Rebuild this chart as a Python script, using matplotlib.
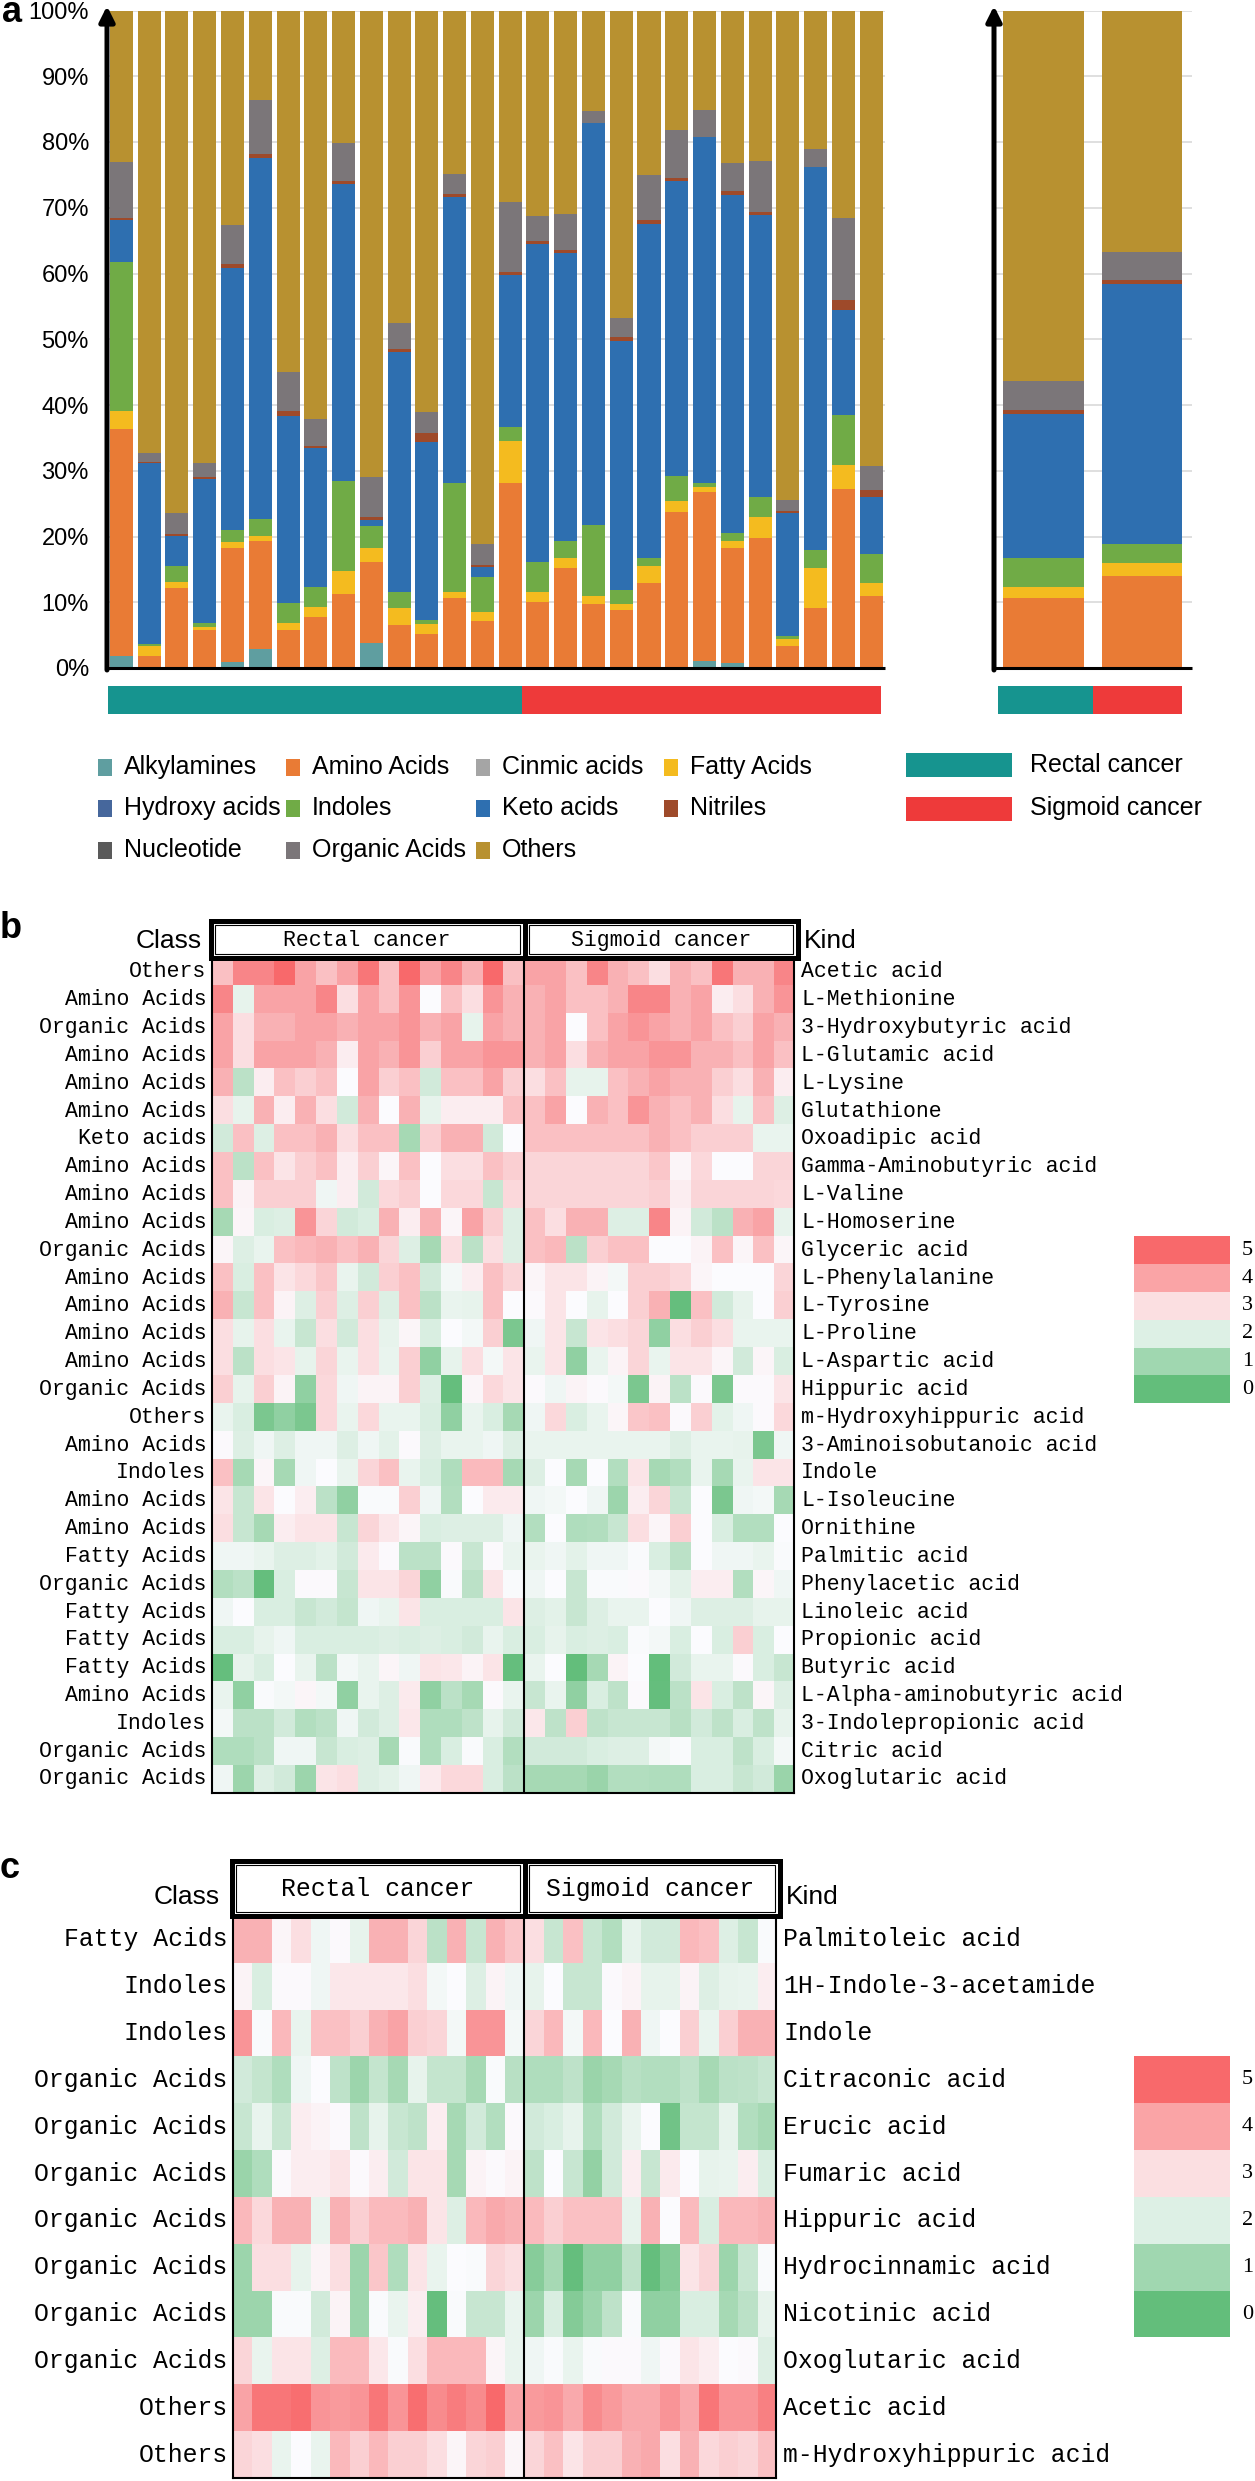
import numpy as np
import matplotlib
matplotlib.use("Agg")
import matplotlib.pyplot as plt
from matplotlib import font_manager
from matplotlib.colors import LinearSegmentedColormap, Normalize
from matplotlib.patches import Rectangle

plt.rcParams['font.family'] = ['Liberation Sans', 'DejaVu Sans']
# narrow face for the legend of panel a, if the system has it
has_narrow = any('Narrow' in f.name for f in font_manager.fontManager.ttflist)
narrow = ['Liberation Sans Narrow', 'Liberation Sans'] if has_narrow else ['Liberation Sans']

# ---------------- panel a : class composition per sample (%) ----------------
groups = ["Rectal cancer", "Sigmoid cancer"]
group_sizes = [15, 13]
group_colors = ["#16948f", "#ee3a3a"]

classes = ["Alkylamines", "Amino Acids", "Cinmic acids", "Fatty Acids", "Hydroxy acids",
           "Indoles", "Keto acids", "Nitriles", "Nucleotide", "Organic Acids", "Others"]
class_colors = ["#5f9ea0", "#e97b35", "#a5a5a5", "#f4bb1f", "#46679c",
                "#70ab46", "#2e6fb0", "#9e4a2a", "#5a5a5a", "#7b7679", "#b89130"]

alkylamines = [1.8, 0, 0, 0, 0.9, 2.9, 0, 0, 0, 3.8, 0, 0, 0, 0,
               0, 0, 0, 0, 0, 0, 0, 1.0, 0.8, 0, 0, 0, 0, 0]
amino = [34.5, 1.8, 12.1, 5.8, 17.3, 16.4, 5.8, 7.8, 11.2, 12.3, 6.5, 5.1, 10.7, 7.2,
         28.1, 10.1, 15.2, 9.8, 8.8, 12.9, 23.8, 25.8, 17.5, 19.8, 3.4, 9.1, 27.3, 11.0]
cinmic = [0] * 28
fatty = [2.8, 1.6, 1.0, 0.5, 1.0, 0.8, 1.0, 1.5, 3.5, 2.1, 2.6, 1.6, 0.8, 1.3,
         6.5, 1.5, 1.5, 1.2, 1.0, 2.6, 1.6, 0.8, 1.0, 3.2, 1.0, 6.1, 3.5, 1.9]
hydroxy = [0] * 28
indoles = [22.6, 0.3, 2.4, 0.5, 1.8, 2.5, 3.1, 3.0, 13.7, 3.4, 2.4, 0.6, 16.7, 5.4,
           2.1, 4.5, 2.6, 10.7, 2.1, 1.2, 3.8, 0.6, 1.3, 3.0, 0.4, 2.8, 7.7, 4.4]
keto = [6.4, 27.5, 4.6, 22.0, 39.8, 55.0, 28.4, 21.1, 45.2, 0.9, 36.6, 27.1, 43.5, 1.4,
        23.0, 48.4, 43.8, 61.2, 37.8, 50.8, 44.9, 52.6, 51.4, 42.9, 18.7, 58.2, 15.9, 8.7]
nitriles = [0.4, 0.2, 0.3, 0.2, 0.6, 0.5, 0.8, 0.4, 0.4, 0.4, 0.4, 1.4, 0.4, 0.3,
            0.6, 0.5, 0.5, 0.0, 0.6, 0.7, 0.5, 0.0, 0.5, 0.4, 0.4, 0.0, 1.5, 1.0]
nucleotide = [0] * 28
organic = [8.4, 1.3, 3.2, 2.2, 6.0, 8.3, 5.9, 4.0, 5.9, 6.2, 4.0, 3.2, 3.0, 3.2,
           10.6, 3.7, 5.4, 1.8, 2.9, 6.8, 7.2, 4.0, 4.3, 7.8, 1.6, 2.8, 12.5, 3.7]
others = [23.2, 67.3, 76.4, 68.7, 32.6, 13.6, 55.0, 62.2, 20.1, 70.9, 47.6, 61.0, 24.9, 81.2,
          29.1, 31.3, 31.0, 15.3, 46.8, 25.0, 18.2, 15.2, 23.2, 22.9, 74.4, 21.0, 31.6, 69.3]

# group means (right-hand panel)
mean_alkylamines = [0, 0]
mean_amino = [10.7, 14.0]
mean_cinmic = [0, 0]
mean_fatty = [1.6, 1.9]
mean_hydroxy = [0, 0]
mean_indoles = [4.4, 3.0]
mean_keto = [22.0, 39.5]
mean_nitriles = [0.6, 0.6]
mean_nucleotide = [0, 0]
mean_organic = [4.4, 4.3]
mean_others = [56.3, 36.7]

# ---------------- panels b / c : heatmaps (half-point levels, 0-10 = score 0-5) ----------------
b_class = ["Others", "Amino Acids", "Organic Acids", "Amino Acids", "Amino Acids", "Amino Acids",
           "Keto acids", "Amino Acids", "Amino Acids", "Amino Acids", "Organic Acids", "Amino Acids",
           "Amino Acids", "Amino Acids", "Amino Acids", "Organic Acids", "Others", "Amino Acids",
           "Indoles", "Amino Acids", "Amino Acids", "Fatty Acids", "Organic Acids", "Fatty Acids",
           "Fatty Acids", "Fatty Acids", "Amino Acids", "Indoles", "Organic Acids", "Organic Acids"]
b_kind = ["Acetic acid", "L-Methionine", "3-Hydroxybutyric acid", "L-Glutamic acid", "L-Lysine",
          "Glutathione", "Oxoadipic acid", "Gamma-Aminobutyric acid", "L-Valine", "L-Homoserine",
          "Glyceric acid", "L-Phenylalanine", "L-Tyrosine", "L-Proline", "L-Aspartic acid",
          "Hippuric acid", "m-Hydroxyhippuric acid", "3-Aminoisobutanoic acid", "Indole",
          "L-Isoleucine", "Ornithine", "Palmitic acid", "Phenylacetic acid", "Linoleic acid",
          "Propionic acid", "Butyric acid", "L-Alpha-aminobutyric acid", "3-Indolepropionic acid",
          "Citric acid", "Oxoglutaric acid"]
b_rectal = [
    [7, 9, 9, 10, 8, 7, 8, 9.5, 7, 10, 8, 9, 7.5, 10, 7],
    [9, 4.3, 8, 8, 8, 9, 6, 8, 7, 8.5, 5, 7, 6, 8.5, 7.5],
    [8, 6, 7.5, 7.5, 8, 8, 7.5, 8, 8, 8.5, 7.5, 8, 4.3, 8, 7.5],
    [8, 6, 8, 8, 8, 7.5, 5.5, 8, 7.5, 8.5, 6.5, 8, 8, 8.5, 8.5],
    [7.5, 2.9, 5.5, 7, 6.5, 7, 5, 8, 6.5, 7, 3.6, 7, 7, 8, 6.5],
    [6, 4.3, 7.5, 5.5, 7.5, 6, 3.6, 7.5, 5, 7.5, 4.3, 5.5, 5.5, 5.5, 7],
    [3.6, 7, 4.0, 7, 7, 7.5, 6, 7, 7, 2.2, 6.5, 7.5, 7.5, 3.6, 5],
    [7, 2.9, 7, 5.8, 6.5, 7, 5.5, 6.5, 5.2, 7, 5, 6, 6, 7, 6.5],
    [7, 5.3, 6.5, 6.5, 6.5, 4.6, 5.5, 3.6, 6.2, 6.5, 5, 6.2, 6.2, 3.3, 6.2],
    [2.2, 5.2, 3.9, 4.0, 8.5, 6.3, 3.6, 3.9, 7.5, 5.5, 7.5, 5.2, 8, 6.5, 4.0],
    [5.2, 4.0, 4.4, 7, 7.3, 7.5, 7, 7.5, 6.3, 4.0, 2.2, 6, 2.9, 6, 4.0],
    [7, 3.9, 7, 5.8, 6.2, 6.8, 4.4, 3.6, 6.5, 7, 3.6, 4.7, 5.5, 7, 6.3],
    [7.5, 3.3, 7, 5.3, 4.0, 6.5, 4.0, 6.5, 4.0, 7, 2.9, 4.4, 4.3, 7, 5],
    [6, 4.3, 6, 4.4, 3.3, 6, 3.6, 6, 4.3, 5.2, 3.9, 5, 4.7, 6.5, 0.8],
    [6, 2.9, 6, 5.8, 4.3, 6.3, 4.4, 6, 4.4, 6.5, 1.5, 4.3, 6, 4.7, 5.8],
    [6.5, 4.3, 6.5, 5.3, 1.5, 6.2, 4.6, 5.3, 5.3, 6.5, 4.0, 0.1, 5.2, 6.2, 5.8],
    [4.4, 3.9, 0.8, 1.5, 0.8, 6.2, 4.4, 6.2, 4.4, 4.4, 3.9, 1.5, 4.4, 3.9, 2.2],
    [5.1, 4.0, 4.6, 4.0, 4.6, 4.6, 4.0, 4.6, 4.2, 5.1, 4.0, 4.4, 4.4, 4.6, 4.0],
    [7, 2.2, 5.2, 2.2, 4.6, 5, 4.4, 6.3, 7, 4.4, 3.9, 2.5, 7.2, 7.2, 2.2],
    [5.8, 3.3, 5.8, 5, 5.5, 2.9, 1.5, 4.9, 4.9, 6.5, 4.6, 2.6, 5, 5.6, 5.6],
    [6, 3.3, 2.2, 5.5, 5.8, 5.8, 3.3, 6.3, 5.7, 5.2, 3.9, 4.0, 4.0, 4.0, 4.6],
    [4.6, 4.6, 4.4, 4.0, 4.0, 4.2, 3.6, 5.6, 5.1, 2.9, 2.9, 5.1, 3.3, 5.1, 4.4],
    [2.6, 2.9, 0.1, 3.9, 5.1, 5.1, 3.3, 5.8, 5.8, 6.3, 1.5, 4.9, 2.9, 5.8, 4.9],
    [4.6, 5, 3.9, 3.9, 3.3, 3.6, 3.2, 4.6, 4.4, 5.8, 3.9, 3.9, 3.9, 3.9, 5.8],
    [3.9, 3.9, 4.3, 4.6, 3.9, 3.9, 3.9, 3.9, 4.0, 3.9, 4.0, 3.9, 3.6, 4.4, 3.9],
    [0.1, 4.3, 3.9, 5, 4.4, 2.9, 4.7, 4.4, 5.2, 4.6, 5.8, 5.7, 5.3, 5.8, 0.1],
    [4.4, 1.5, 4.9, 4.7, 5.2, 4.7, 1.5, 4.4, 4.0, 5.6, 1.5, 2.9, 2.2, 5.1, 4.4],
    [4.7, 2.9, 2.9, 3.6, 2.6, 2.9, 4.6, 3.6, 4.0, 5.7, 2.5, 2.5, 3.0, 4.3, 3.6],
    [2.5, 2.5, 2.9, 4.6, 4.6, 3.3, 3.9, 4.0, 2.2, 4.9, 2.5, 3.9, 4.9, 3.9, 2.6],
    [4.6, 1.9, 4.0, 3.6, 1.9, 5.8, 6, 4.0, 4.2, 4.6, 5.6, 6.2, 6.2, 3.9, 2.9],
]
b_sigmoid = [
    [8, 8, 7, 9, 7.5, 7, 6, 7.5, 7, 9.5, 7.5, 7.5, 9],
    [7.5, 8, 7, 7, 7.5, 9, 9, 7.5, 8, 5.5, 6, 7.5, 8.5],
    [7.5, 8, 5, 7, 8, 8.5, 8, 7.5, 8, 7, 6.5, 8, 7.5],
    [7.5, 8, 6, 7.5, 8, 8, 8.5, 8.5, 7.5, 7.5, 7, 8, 7],
    [6, 7, 4.3, 4.3, 7, 7.5, 8, 7.5, 7.5, 6.5, 6, 7.5, 5.5],
    [7, 8, 5, 7.5, 7, 8.5, 7.5, 7, 7.5, 6, 4.3, 7, 4.0],
    [7, 7, 7, 7, 7, 7, 7.5, 7, 6.5, 6.5, 6.5, 4.4, 4.4],
    [6.3, 6.3, 6.3, 6.3, 6.3, 6.3, 6.8, 5.2, 6.2, 5, 5, 6.3, 6.3],
    [6.3, 6.3, 6.3, 6.3, 6.3, 6.3, 6.5, 5.5, 6.3, 6.3, 6.3, 6.3, 6.2],
    [7, 6, 7.5, 7.5, 4.0, 4.0, 9, 5.3, 3.6, 2.9, 7.5, 8, 4.3],
    [7, 7.3, 2.9, 6.5, 7, 7, 5, 5, 5.3, 7, 5.2, 7, 5.2],
    [5.2, 5.8, 5.8, 5.3, 4.7, 6.5, 6.5, 6.2, 5.2, 5, 5, 5, 6.3],
    [5.1, 5.8, 5, 4.3, 5, 6.5, 7.5, 0.1, 7, 3.6, 4.3, 5, 6.5],
    [4.6, 5.8, 3.3, 5.8, 6, 6.3, 1.5, 6, 6.5, 6, 4.4, 4.4, 4.4],
    [4.4, 5.8, 1.5, 4.4, 5.3, 6.3, 4.4, 5.8, 5.8, 5.2, 3.6, 5.2, 3.9],
    [5.1, 4.6, 5.3, 5.1, 4.7, 0.8, 5.3, 2.9, 5.1, 0.8, 5.1, 5.1, 5.8],
    [4.6, 6.2, 3.9, 4.4, 5.2, 6.8, 7, 5.1, 6.5, 4.2, 4.6, 5.1, 6.2],
    [4.4, 4.4, 4.4, 4.4, 4.4, 4.4, 4.4, 4.0, 4.4, 4.4, 4.3, 0.8, 4.6],
    [4.0, 5, 2.2, 5, 2.6, 5.8, 2.2, 2.6, 4.4, 2.2, 4.4, 5.8, 5.8],
    [4.6, 4.7, 5, 4.6, 1.9, 5.5, 6.3, 3.3, 5, 0.8, 4.6, 4.7, 2.2],
    [2.6, 5, 2.5, 2.6, 3.3, 6, 5.2, 6.5, 5, 3.9, 2.6, 2.6, 5],
    [4.4, 4.6, 4.2, 4.6, 4.6, 4.9, 3.9, 2.9, 5, 4.6, 4.6, 4.4, 4.9],
    [4.6, 5, 3.3, 4.9, 4.9, 5.1, 4.7, 4.2, 5.5, 5.5, 2.6, 5.2, 4.6],
    [4.0, 4.2, 3.3, 4.0, 4.4, 4.4, 5, 4.6, 4.0, 4.0, 4.0, 4.3, 4.3],
    [3.9, 4.3, 3.9, 4.0, 3.9, 4.9, 4.7, 3.9, 5, 3.9, 6.5, 3.9, 5],
    [4.4, 5, 0.0, 2.2, 5.3, 5, 0.0, 3.6, 4.4, 4.4, 5.1, 3.9, 3.3],
    [3.3, 4.4, 1.5, 3.9, 3.0, 5.1, 0.1, 2.9, 5.8, 3.9, 3.0, 5.2, 4.0],
    [5.7, 3.0, 6.5, 3.0, 3.3, 3.3, 3.3, 2.8, 3.6, 3.0, 3.9, 3.0, 4.3],
    [3.6, 3.6, 3.6, 3.9, 4.0, 4.0, 4.7, 4.9, 3.9, 3.9, 3.0, 3.9, 4.7],
    [2.2, 2.2, 2.2, 1.8, 2.6, 2.6, 2.5, 2.5, 3.9, 3.9, 3.3, 3.6, 1.8],
]

c_class = ["Fatty Acids", "Indoles", "Indoles", "Organic Acids", "Organic Acids", "Organic Acids",
           "Organic Acids", "Organic Acids", "Organic Acids", "Organic Acids", "Others", "Others"]
c_kind = ["Palmitoleic acid", "1H-Indole-3-acetamide", "Indole", "Citraconic acid", "Erucic acid",
          "Fumaric acid", "Hippuric acid", "Hydrocinnamic acid", "Nicotinic acid",
          "Oxoglutaric acid", "Acetic acid", "m-Hydroxyhippuric acid"]
c_rectal = [
    [7.5, 7.5, 5.2, 6, 4.6, 5.1, 4.3, 7.5, 7.5, 6.3, 2.9, 7.5, 3.3, 7.5, 6.8],
    [5.3, 3.9, 5.1, 5.1, 4.6, 5.7, 5.7, 5.7, 5.7, 6, 4.7, 5, 4.0, 5.3, 4.6],
    [8.5, 4.9, 7.3, 4.4, 7, 7, 6.5, 7.5, 8, 6.5, 6.3, 4.7, 8.5, 8.5, 4.7],
    [3.6, 3.2, 2.5, 4.6, 5, 3.0, 1.9, 3.2, 2.2, 4.3, 3.2, 3.2, 2.2, 4.9, 2.8],
    [3.3, 4.4, 3.3, 5.5, 5.3, 5.1, 3.0, 4.3, 3.3, 3.0, 5.5, 2.2, 3.6, 2.6, 5.1],
    [1.8, 2.5, 5.1, 5.5, 5.5, 5.8, 5.1, 5.5, 3.6, 5.8, 5.8, 2.2, 5.3, 5.1, 5.3],
    [7.3, 6.2, 7.5, 7.5, 4.4, 7.5, 6.5, 7.2, 7.2, 7.5, 5.8, 4.0, 7.3, 7.8, 7.5],
    [1.9, 6, 6, 4.3, 5.3, 6, 1.9, 6.8, 2.5, 5.8, 4.4, 5, 4.9, 6.3, 6],
    [1.9, 1.9, 4.9, 4.9, 3.6, 5.3, 1.9, 4.9, 4.4, 5.5, 0.1, 4.9, 3.3, 3.3, 4.4],
    [6.3, 4.4, 5.8, 5.8, 4.0, 7.2, 7.2, 5.7, 4.9, 6, 7.3, 7.3, 7.3, 5.2, 4.4],
    [8, 9.5, 9.5, 9.8, 8.5, 8.3, 8.5, 9.5, 8.5, 9.8, 8.8, 9.3, 8.8, 10, 8],
    [6.3, 6, 4.4, 5, 4.4, 7.3, 6.5, 7.3, 6.5, 6.5, 6, 5.2, 6.3, 6.5, 5.2],
]
c_sigmoid = [
    [6, 3.3, 7, 3.3, 2.6, 4.3, 3.6, 3.6, 7.3, 7, 4.0, 3.3, 4.9],
    [4.3, 5, 3.3, 3.3, 5.1, 5.3, 4.3, 4.3, 5.3, 4.0, 4.3, 4.4, 5.5],
    [6.3, 7.3, 4.7, 7.3, 5, 7.5, 4.6, 5, 6.5, 4.4, 6.5, 7.5, 7.5],
    [2.5, 2.5, 3.0, 1.8, 2.2, 2.8, 2.6, 2.6, 3.0, 2.2, 2.9, 3.0, 3.3],
    [3.6, 3.9, 4.3, 2.5, 3.6, 4.4, 5, 0.5, 3.2, 3.2, 4.3, 2.6, 2.2],
    [3.0, 5, 3.3, 1.6, 3.6, 5.5, 3.3, 5.6, 5, 4.3, 4.4, 5.5, 3.9],
    [7.2, 6.5, 7, 7, 7, 4.3, 7.5, 5, 7.2, 3.9, 7.3, 7.3, 7.5],
    [1.2, 2.2, 0.1, 1.5, 1.5, 3.0, 0.1, 1.1, 5.8, 6.3, 1.9, 3.3, 4.9],
    [1.9, 3.9, 1.1, 1.9, 3.0, 4.9, 1.5, 1.5, 3.9, 3.9, 2.2, 2.9, 4.3],
    [4.6, 4.9, 4.4, 4.9, 5.1, 5.1, 4.6, 5.1, 5.8, 5.5, 5, 5.1, 4.0],
    [8.3, 8.5, 7.8, 8.8, 8.3, 7.8, 7.8, 8.5, 7.8, 9.5, 8.5, 8.5, 9.2],
    [6.3, 7, 5.8, 6.5, 6.5, 7.5, 7.8, 6, 7.5, 6.2, 6.5, 6.3, 7],
]
score_labels = [5, 4, 3, 2, 1, 0]

# ---------------- figure ----------------
W, H = 1255, 2481
fig = plt.figure(figsize=(W / 100, H / 100), dpi=100)


def px_axes(x0, y0, x1, y1):
    return fig.add_axes([x0 / W, 1 - y1 / H, (x1 - x0) / W, (y1 - y0) / H])


def stack(ax, x, series, width):
    bottom = np.zeros(len(x))
    for vals, col in zip(series, class_colors):
        vals = np.asarray(vals, dtype=float)
        ax.bar(x, vals, width, bottom=bottom, color=col, lw=0, zorder=2)
        bottom += vals


def style_pct(ax, labels):
    ax.set_ylim(0, 100)
    ax.set_yticks(range(0, 101, 10))
    if labels:
        ax.set_yticklabels([f"{v}%" for v in range(0, 101, 10)], fontsize=17)
    else:
        ax.set_yticklabels([])
    ax.tick_params(axis='y', length=0, pad=13)
    ax.set_xticks([])
    ax.yaxis.grid(True, color='#d9d9d9', lw=1.2, zorder=0)
    ax.set_axisbelow(True)
    for s in ax.spines.values():
        s.set_visible(False)


# main bars
ax_a = px_axes(107, 10.5, 885, 668)
xs = np.arange(len(amino))
stack(ax_a, xs, [alkylamines, amino, cinmic, fatty, hydroxy, indoles, keto, nitriles,
                 nucleotide, organic, others], 0.83)
ax_a.set_xlim(-0.52, 27.5)
style_pct(ax_a, True)

# group means
ax_m = px_axes(994, 10.5, 1192, 668)
stack(ax_m, np.arange(2), [mean_alkylamines, mean_amino, mean_cinmic, mean_fatty, mean_hydroxy,
                           mean_indoles, mean_keto, mean_nitriles, mean_nucleotide,
                           mean_organic, mean_others], 0.82)
ax_m.set_xlim(-0.503, 1.508)
style_pct(ax_m, False)

# group strips
ax_g = px_axes(107, 686, 885, 714)
ax_g.set_xlim(-0.52, 27.5)
ax_g.set_ylim(0, 1)
left = -0.49
for n, col in zip(group_sizes, group_colors):
    ax_g.bar(left, 1, n * 0.995, align='edge', color=col, lw=0)
    left += n * 0.995
ax_g.axis('off')

ax_g2 = px_axes(994, 686, 1192, 714)
ax_g2.set_xlim(-0.503, 1.508)
ax_g2.set_ylim(0, 1)
ax_g2.bar([-0.46, 0.505], [1, 1], [0.965, 0.905], align='edge', color=group_colors, lw=0)
ax_g2.axis('off')

# heatmaps
cmap = LinearSegmentedColormap.from_list('gwr', [(0, '#63BE7B'), (0.5, '#FCFCFF'), (1, '#F8696B')])
norm = Normalize(0, 10)


def heatmap(box, rect, sig):
    ax = px_axes(*box)
    data = np.hstack([np.array(rect), np.array(sig)])
    ax.imshow(data, cmap=cmap, norm=norm, aspect='auto', interpolation='nearest')
    ax.axvline(len(rect[0]) - 0.5, color='black', lw=1.5)
    ax.set_xticks([])
    ax.set_yticks([])
    for s in ax.spines.values():
        s.set_linewidth(1.5)
    return ax


heatmap((211.5, 958, 794, 1793), b_rectal, b_sigmoid)
heatmap((232.7, 1916, 776, 2478), c_rectal, c_sigmoid)

# ---------------- overlay for annotations ----------------
ov = fig.add_axes([0, 0, 1, 1])
ov.set_xlim(0, W)
ov.set_ylim(H, 0)
ov.axis('off')

# axis arrows and baselines
for xa, xr in [(107, 885), (994, 1192)]:
    ov.plot([xa - 2, xr], [668, 668], color='black', lw=2.2, solid_capstyle='butt')
    ov.annotate('', xy=(xa, 6), xytext=(xa, 670),
                arrowprops=dict(arrowstyle='-|>,head_length=0.9,head_width=0.45',
                                lw=3.6, color='black', shrinkA=0, shrinkB=0))

ov.text(2, 13, 'a', fontsize=26, fontweight='bold', va='center', ha='left')

# class legend
leg_fs = 18 if has_narrow else 15
grp_fs = 18 if has_narrow else 15
leg_x = [98, 286, 476, 664]
leg_y = [767, 808, 850]
for i, (name, col) in enumerate(zip(classes, class_colors)):
    r, c = divmod(i, 4)
    ov.add_patch(Rectangle((leg_x[c], leg_y[r] - 8.5), 14, 17, color=col, lw=0))
    ov.text(leg_x[c] + 26, leg_y[r], name, fontsize=leg_fs, family=narrow,
            va='center', ha='left')

for name, col, y in zip(groups, group_colors, [765, 808.5]):
    ov.add_patch(Rectangle((906, y - 12), 106, 24, color=col, lw=0))
    ov.text(1030, y, name, fontsize=grp_fs, family=narrow, va='center', ha='left')

mono = 'Liberation Mono'


def panel_text(label, lab_y, class_right, class_y, kind_x, frame, sep_x, h_centers,
               x0_heat, row_top, row_h, classes_, kinds_, fs, cb_rows, cb_x):
    ov.text(0, lab_y, label, fontsize=26, fontweight='bold', va='center', ha='left')
    ov.text(class_right, class_y, 'Class', fontsize=19, va='center', ha='right')
    ov.text(kind_x, class_y, 'Kind', fontsize=19, va='center', ha='left')
    fx0, fy0, fx1, fy1 = frame
    ov.add_patch(Rectangle((fx0, fy0), fx1 - fx0, fy1 - fy0, fill=False, ec='black', lw=3.6))
    ov.plot([sep_x, sep_x], [fy0, fy1], color='black', lw=3.6)
    ov.add_patch(Rectangle((fx0 + 4.5, fy0 + 4.5), sep_x - fx0 - 9, fy1 - fy0 - 9,
                           fill=False, ec='black', lw=0.8))
    ov.add_patch(Rectangle((sep_x + 4.5, fy0 + 4.5), fx1 - sep_x - 9, fy1 - fy0 - 9,
                           fill=False, ec='black', lw=0.8))
    for gname, xc in zip(groups, h_centers):
        ov.text(xc, (fy0 + fy1) / 2 + 1, gname, fontsize=fs, family=mono, va='center', ha='center')
    for i, (cl, kd) in enumerate(zip(classes_, kinds_)):
        yc = row_top + (i + 0.5) * row_h
        ov.text(x0_heat - 5, yc, cl, fontsize=fs, family=mono, va='center', ha='right')
        ov.text(kind_x - 3, yc, kd, fontsize=fs, family=mono, va='center', ha='left')
    for j, s in enumerate(score_labels):
        yt = row_top + (cb_rows + j) * row_h
        ov.add_patch(Rectangle((cb_x, yt), 96, row_h, color=cmap(norm(2 * s)), lw=0))
        ov.text(cb_x + 108, yt + row_h / 2, str(s), fontsize=16, family='Liberation Serif',
                va='center', ha='left')


panel_text('b', 928, 202, 941, 804, (210.5, 920.5, 797.5, 958), 524.5, [367, 661],
           211.5, 958, 27.83, b_class, b_kind, 15.5, 10, 1134)
panel_text('c', 1868, 220, 1897, 786, (231.5, 1860.5, 779.5, 1916), 524.5, [378, 650],
           232.7, 1916, 46.83, c_class, c_kind, 17.8, 3, 1134)

fig.savefig('out.png', dpi=100)
